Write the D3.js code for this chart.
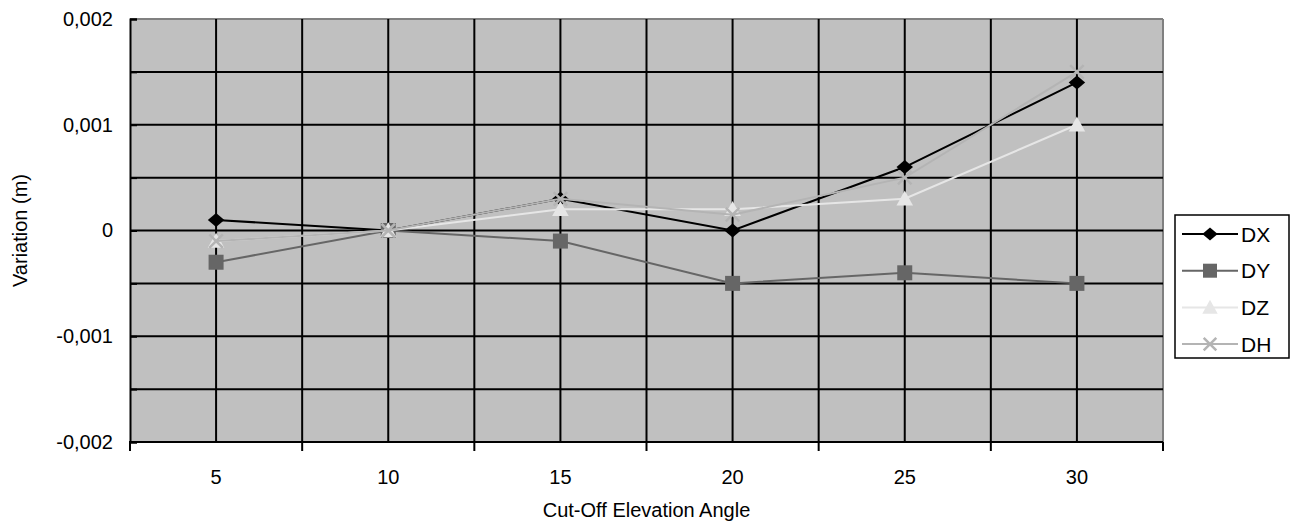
<!DOCTYPE html>
<html>
<head>
<meta charset="utf-8">
<script src="https://cdn.jsdelivr.net/npm/d3@7"></script>
<style>
  html, body { margin: 0; padding: 0; background: #fff; }
  svg { display: block; font-family: "Liberation Sans", Arial, sans-serif; }
</style>
</head>
<body>
<svg id="chart" width="1295" height="529"></svg>
<script>
// Cut-off elevation angles (degrees)
const categories = ["5", "10", "15", "20", "25", "30"];

// Coordinate variations (m) per cut-off angle
const dx = [0.0001, 0, 0.0003, 0, 0.0006, 0.0014];
const dy = [-0.0003, 0, -0.0001, -0.0005, -0.0004, -0.0005];
const dz = [-0.0001, 0, 0.0002, 0.0002, 0.0003, 0.001];
const dh = [-0.0001, 0, 0.0003, 0.00015, 0.0005, 0.0015];

const yTicks = [-0.002, -0.0015, -0.001, -0.0005, 0, 0.0005, 0.001, 0.0015, 0.002];
const yLabels = ["-0,002", "", "-0,001", "", "0", "", "0,001", "", "0,002"];

const series = [
  { name: "DX", values: dx, color: "#000000", marker: "diamond" },
  { name: "DY", values: dy, color: "#666666", marker: "square" },
  { name: "DZ", values: dz, color: "#e6e6e6", marker: "triangle" },
  { name: "DH", values: dh, color: "#b4b4b4", marker: "cross" }
];

const FONT = "Liberation Sans, Arial, sans-serif";
const svg = d3.select("#chart");
const plot = { left: 130, right: 1163, top: 19, bottom: 442 };

const x = d3.scaleBand().domain(categories).range([plot.left, plot.right]).padding(0);
const y = d3.scaleLinear().domain([-0.002, 0.002]).range([plot.bottom, plot.top]);

// Plot background
svg.append("rect")
  .attr("x", plot.left).attr("y", plot.top)
  .attr("width", plot.right - plot.left).attr("height", plot.bottom - plot.top)
  .attr("fill", "#c0c0c0");

// Frame: top and right edges in gray
svg.append("line").attr("x1", plot.left).attr("x2", plot.right)
  .attr("y1", plot.top).attr("y2", plot.top)
  .attr("stroke", "#808080").attr("stroke-width", 2);
svg.append("line").attr("x1", plot.right).attr("x2", plot.right)
  .attr("y1", plot.top).attr("y2", plot.bottom)
  .attr("stroke", "#808080").attr("stroke-width", 2);

// Horizontal gridlines
const grid = svg.append("g");
grid.selectAll("line.h")
  .data(yTicks.filter(v => v > -0.002 && v < 0.002))
  .join("line").attr("class", "h")
  .attr("x1", plot.left).attr("x2", plot.right)
  .attr("y1", d => y(d)).attr("y2", d => y(d))
  .attr("stroke", "#000").attr("stroke-width", 2);

// Vertical gridlines at category edges and centres
const vLines = [];
categories.forEach((c, i) => {
  if (i > 0) vLines.push(x(c));
  vLines.push(x(c) + x.bandwidth() / 2);
});
grid.selectAll("line.v")
  .data(vLines)
  .join("line").attr("class", "v")
  .attr("x1", d => d).attr("x2", d => d)
  .attr("y1", plot.top).attr("y2", plot.bottom)
  .attr("stroke", "#000").attr("stroke-width", 2);

// Y axis
const yAxis = d3.axisLeft(y)
  .tickValues(yTicks)
  .tickSize(-7)
  .tickPadding(17)
  .tickFormat((d, i) => yLabels[i]);
const gy = svg.append("g").attr("transform", `translate(${plot.left},0)`).call(yAxis);
gy.attr("font-size", 20).attr("font-family", FONT);
gy.select(".domain").attr("stroke", "#000").attr("stroke-width", 2);
gy.selectAll(".tick line").attr("stroke", "#000").attr("stroke-width", 2);
gy.selectAll(".tick text").attr("fill", "#000");

// X axis: ticks at category edges, labels at centres
const xAxis = d3.axisBottom(x).tickSize(0).tickPadding(28);
const gx = svg.append("g").attr("transform", `translate(0,${plot.bottom})`).call(xAxis);
gx.attr("font-size", 20).attr("font-family", FONT);
gx.select(".domain").remove();
gx.selectAll(".tick text").attr("fill", "#000");
gx.append("line").attr("x1", plot.left - 1).attr("x2", plot.right)
  .attr("y1", 0).attr("y2", 0).attr("stroke", "#000").attr("stroke-width", 2);
const edges = categories.map(c => x(c)).concat([plot.right]);
gx.selectAll("line.edge").data(edges).join("line").attr("class", "edge")
  .attr("x1", d => d).attr("x2", d => d).attr("y1", 0).attr("y2", 9)
  .attr("stroke", "#000").attr("stroke-width", 2);

// Axis titles
svg.append("text")
  .attr("x", (plot.left + plot.right) / 2).attr("y", 517)
  .attr("text-anchor", "middle").attr("font-size", 20).text("Cut-Off Elevation Angle");
svg.append("text")
  .attr("transform", `translate(27,${(plot.top + plot.bottom) / 2}) rotate(-90)`)
  .attr("text-anchor", "middle").attr("font-size", 20).text("Variation (m)");

// Marker shapes
function marker(sel, type, color, s) {
  if (type === "diamond") {
    sel.append("path").attr("d", `M0,${-s * 0.47}L${s * 0.55},0L0,${s * 0.47}L${-s * 0.55},0Z`)
      .attr("fill", color);
  } else if (type === "square") {
    sel.append("rect").attr("x", -s / 2).attr("y", -s / 2)
      .attr("width", s).attr("height", s).attr("fill", color);
  } else if (type === "triangle") {
    sel.append("path").attr("d", `M0,${-s * 0.55}L${s * 0.55},${s * 0.45}L${-s * 0.55},${s * 0.45}Z`)
      .attr("fill", color);
  } else if (type === "cross") {
    const r = s * 0.45;
    sel.append("path").attr("d", `M${-r},${-r}L${r},${r}M${-r},${r}L${r},${-r}`)
      .attr("stroke", color).attr("stroke-width", 2.5).attr("fill", "none");
  }
}

const cx = c => x(c) + x.bandwidth() / 2;
const line = d3.line().x((d, i) => cx(categories[i])).y(d => y(d));

// Series drawn in order, so later series sit on top
series.forEach(s => {
  const g = svg.append("g");
  g.append("path").attr("d", line(s.values))
    .attr("fill", "none").attr("stroke", s.color).attr("stroke-width", 2);
  s.values.forEach((v, i) => {
    const m = g.append("g").attr("transform", `translate(${cx(categories[i])},${y(v)})`);
    marker(m, s.marker, s.color, 15);
  });
});

// Legend
const legend = svg.append("g").attr("font-family", FONT);
legend.append("rect").attr("x", 1175).attr("y", 215).attr("width", 114).attr("height", 143)
  .attr("fill", "#fff").attr("stroke", "#000").attr("stroke-width", 1.5);
series.forEach((s, i) => {
  const ly = 234 + i * 36.7;
  const g = legend.append("g");
  g.append("line").attr("x1", 1182).attr("x2", 1238).attr("y1", ly).attr("y2", ly)
    .attr("stroke", s.color).attr("stroke-width", 2);
  const m = g.append("g").attr("transform", `translate(1210,${ly})`);
  marker(m, s.marker, s.color, 14);
  g.append("text").attr("x", 1241).attr("y", ly + 7.5).attr("font-size", 21).text(s.name);
});
</script>
</body>
</html>
